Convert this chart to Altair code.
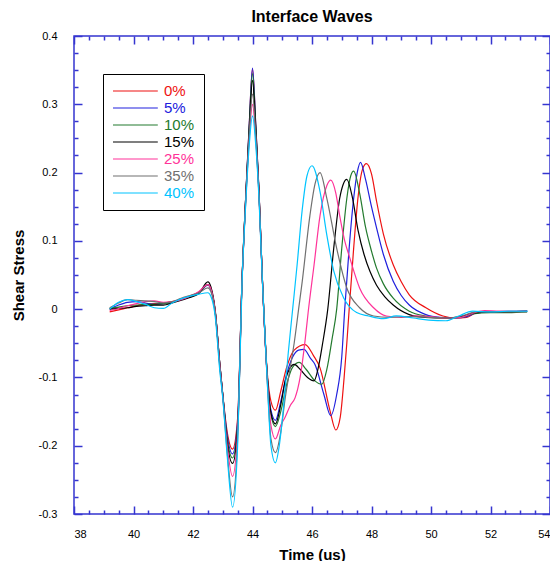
import altair as alt
import pandas as pd

series = ["0%", "5%", "10%", "15%", "25%", "35%", "40%"]
colors = ["#ee1111", "#2020dd", "#237a2e", "#000000", "#ff3399", "#707070", "#00c4ff"]
widths = [1.2, 1.2, 1.2, 1.3, 1.2, 1.2, 2.0]

# shared time samples of the early part of the record
early_t = [39.2, 39.5, 39.8, 40.1, 40.4, 40.7, 41.0, 41.3, 41.6, 41.9, 42.2, 42.5]
main_t = [42.6, 42.75, 42.9, 43.0, 43.15, 43.33, 43.5, 43.65, 43.78, 43.89, 44.0,
          44.11, 44.22, 44.33, 44.5, 44.62, 44.77]

early_v = {
    "0%":  [-0.004, -0.001, 0.002, 0.005, 0.007, 0.008, 0.009, 0.011, 0.014, 0.019, 0.025, 0.036],
    "5%":  [0.0, 0.006, 0.010, 0.011, 0.009, 0.007, 0.008, 0.010, 0.014, 0.018, 0.024, 0.035],
    "10%": [0.001, 0.003, 0.005, 0.006, 0.007, 0.007, 0.008, 0.010, 0.014, 0.018, 0.024, 0.036],
    "15%": [0.0, 0.001, 0.002, 0.004, 0.005, 0.006, 0.006, 0.009, 0.013, 0.017, 0.023, 0.040],
    "25%": [-0.002, 0.001, 0.005, 0.008, 0.011, 0.012, 0.010, 0.011, 0.014, 0.019, 0.026, 0.036],
    "35%": [0.002, 0.009, 0.014, 0.013, 0.012, 0.011, 0.009, 0.011, 0.016, 0.020, 0.024, 0.031],
    "40%": [0.0, 0.010, 0.014, 0.011, 0.007, 0.002, 0.001, 0.009, 0.015, 0.019, 0.022, 0.024],
}

main_v = {
    "0%":  [0.030, -0.005, -0.080, -0.125, -0.180, -0.205, -0.160, 0.045, 0.172, 0.269, 0.352,
            0.269, 0.172, 0.046, -0.095, -0.135, -0.148],
    "5%":  [0.029, -0.005, -0.080, -0.125, -0.185, -0.212, -0.165, 0.045, 0.172, 0.270, 0.353,
            0.270, 0.172, 0.046, -0.100, -0.148, -0.163],
    "10%": [0.030, -0.005, -0.080, -0.125, -0.190, -0.218, -0.170, 0.045, 0.170, 0.266, 0.345,
            0.266, 0.170, 0.046, -0.100, -0.155, -0.172],
    "15%": [0.033, -0.003, -0.080, -0.125, -0.195, -0.226, -0.175, 0.045, 0.170, 0.262, 0.335,
            0.262, 0.170, 0.046, -0.100, -0.152, -0.168],
    "25%": [0.030, -0.005, -0.082, -0.127, -0.200, -0.245, -0.180, 0.043, 0.165, 0.250, 0.300,
            0.250, 0.165, 0.045, -0.105, -0.170, -0.190],
    "35%": [0.026, -0.007, -0.085, -0.128, -0.210, -0.275, -0.190, 0.042, 0.165, 0.255, 0.315,
            0.255, 0.165, 0.045, -0.108, -0.190, -0.210],
    "40%": [0.019, -0.012, -0.090, -0.130, -0.215, -0.290, -0.200, 0.040, 0.160, 0.240, 0.283,
            0.240, 0.160, 0.043, -0.110, -0.200, -0.225],
}

late_t = {
    "0%":  [44.95, 45.15, 45.4, 45.77, 46.05, 46.27, 46.6, 46.8, 46.95, 47.08, 47.17, 47.25, 47.4,
            47.55, 47.7, 47.83, 48.0, 48.17, 48.4, 48.73, 49.0, 49.27, 49.83, 50.4, 50.83, 51.2,
            51.5, 52.0, 52.6, 53.23],
    "5%":  [44.95, 45.15, 45.35, 45.55, 45.73, 45.95, 46.1, 46.4, 46.63, 46.83, 47.0, 47.1, 47.25,
            47.4, 47.52, 47.63, 47.8, 48.0, 48.17, 48.4, 48.73, 49.0, 49.27, 49.83, 50.3, 50.8,
            51.2, 51.5, 52.0, 52.6, 53.23],
    "10%": [44.95, 45.15, 45.35, 45.57, 45.8, 46.1, 46.33, 46.5, 46.67, 46.83, 47.0, 47.17, 47.3,
            47.4, 47.6, 47.8, 48.0, 48.17, 48.4, 48.73, 49.27, 49.8, 50.5, 51.0, 51.4, 52.0,
            52.6, 53.23],
    "15%": [44.95, 45.1, 45.25, 45.4, 45.6, 45.85, 46.07, 46.2, 46.35, 46.53, 46.73, 46.93, 47.05,
            47.17, 47.35, 47.55, 47.75, 47.95, 48.17, 48.45, 48.73, 49.27, 49.8, 50.5, 51.0,
            51.4, 52.0, 52.6, 53.23],
    "25%": [44.95, 45.1, 45.27, 45.43, 45.6, 45.77, 45.87, 46.07, 46.27, 46.5, 46.63, 46.8, 46.93,
            47.1, 47.27, 47.6, 48.07, 48.5, 49.0, 49.5, 50.0, 50.5, 51.0, 51.4, 51.8, 52.3, 53.23],
    "35%": [44.95, 45.1, 45.27, 45.4, 45.55, 45.67, 45.93, 46.1, 46.27, 46.5, 46.83, 47.17, 47.6,
            48.07, 48.6, 49.2, 50.0, 50.6, 51.1, 51.5, 52.5, 53.23],
    "40%": [44.9, 45.05, 45.2, 45.35, 45.5, 45.67, 45.83, 46.0, 46.27, 46.5, 46.73, 47.07, 47.5,
            47.9, 48.4, 48.83, 49.4, 49.93, 50.5, 50.93, 51.4, 52.0, 52.6, 53.25],
}

late_v = {
    "0%":  [-0.120, -0.085, -0.060, -0.052, -0.068, -0.086, -0.148, -0.177, -0.158, -0.100, -0.050,
            0.0, 0.089, 0.165, 0.205, 0.213, 0.198, 0.158, 0.110, 0.065, 0.040, 0.021, 0.002,
            -0.010, -0.013, -0.012, -0.006, -0.004, -0.004, -0.003],
    "5%":  [-0.135, -0.095, -0.070, -0.060, -0.059, -0.072, -0.081, -0.125, -0.156, -0.125, -0.070,
            0.0, 0.090, 0.162, 0.200, 0.215, 0.190, 0.150, 0.119, 0.080, 0.041, 0.020, 0.006,
            -0.008, -0.012, -0.013, -0.011, -0.006, -0.004, -0.004, -0.003],
    "10%": [-0.150, -0.110, -0.085, -0.078, -0.088, -0.105, -0.110, -0.088, -0.045, 0.0, 0.089,
            0.162, 0.195, 0.202, 0.170, 0.120, 0.085, 0.060, 0.037, 0.016, -0.003, -0.010, -0.013,
            -0.012, -0.007, -0.005, -0.005, -0.004],
    "15%": [-0.140, -0.105, -0.087, -0.081, -0.088, -0.100, -0.105, -0.088, -0.052, 0.0, 0.089,
            0.162, 0.183, 0.190, 0.165, 0.115, 0.080, 0.055, 0.035, 0.018, 0.006, -0.008, -0.012,
            -0.013, -0.011, -0.006, -0.004, -0.004, -0.003],
    "25%": [-0.170, -0.158, -0.141, -0.130, -0.100, -0.045, -0.005, 0.065, 0.137, 0.181, 0.189,
            0.170, 0.137, 0.100, 0.075, 0.031, 0.002, -0.010, -0.012, -0.010, -0.011, -0.013,
            -0.012, -0.006, -0.002, -0.003, -0.003],
    "35%": [-0.180, -0.130, -0.085, -0.050, 0.0, 0.040, 0.137, 0.183, 0.200, 0.162, 0.089, 0.031,
            0.002, -0.010, -0.012, -0.011, -0.012, -0.013, -0.009, -0.004, -0.004, -0.004],
    "40%": [-0.200, -0.140, -0.065, 0.0, 0.065, 0.145, 0.195, 0.210, 0.172, 0.108, 0.056, 0.016,
            -0.005, -0.010, -0.014, -0.010, -0.013, -0.016, -0.017, -0.010, -0.003, -0.004,
            -0.003, -0.003],
}

x_major = [38, 40, 42, 44, 46, 48, 50, 52, 54]
x_minor = [38.5, 39, 39.5, 40.5, 41, 41.5, 42.5, 43, 43.5, 44.5, 45, 45.5, 46.5, 47, 47.5,
           48.5, 49, 49.5, 50.5, 51, 51.5, 52.5, 53, 53.5]
y_major = [-0.3, -0.2, -0.1, 0.0, 0.1, 0.2, 0.3, 0.4]
y_minor = [-0.275, -0.25, -0.225, -0.175, -0.15, -0.125, -0.075, -0.05, -0.025,
           0.025, 0.05, 0.075, 0.125, 0.15, 0.175, 0.225, 0.25, 0.275, 0.325, 0.35, 0.375]

rows = []
for s in series:
    ts = early_t + main_t + late_t[s]
    vs = early_v[s] + main_v[s] + late_v[s]
    for t, v in zip(ts, vs):
        rows.append({"series": s, "t": t, "v": v})
df = pd.DataFrame(rows)

FONT = "Liberation Sans"
BLUE = "#3535d0"
W, H = 476, 478

xs = alt.Scale(domain=[38, 54], nice=False, zero=False)
ys = alt.Scale(domain=[-0.3, 0.4], nice=False, zero=False)

label_color_expr = " : ".join(
    f"datum.value == '{s}' ? '{c}'" for s, c in zip(series, colors)
) + " : 'black'"

base = alt.Chart(df)

lines = base.mark_line(interpolate="monotone").encode(
    x=alt.X("t:Q", scale=xs, axis=alt.Axis(
        orient="bottom", values=x_major, format="d", title="Time (us)",
        ticks=False, tickSize=0, domain=False, grid=False, labelPadding=14,
        labelFontSize=11, labelFont=FONT, labelColor="black",
        titleFont=FONT, titleFontSize=15, titleFontWeight="bold", titleColor="black",
        titlePadding=8)),
    y=alt.Y("v:Q", scale=ys, axis=alt.Axis(
        orient="left", values=y_major, title="Shear Stress",
        labelExpr="datum.value == 0 ? '0' : (datum.value < 0 ? '-' : '') + format(abs(datum.value), '.1f')",
        ticks=False, tickSize=0, domain=False, grid=False, labelPadding=17,
        labelFontSize=11, labelFont=FONT, labelColor="black",
        titleFont=FONT, titleFontSize=15, titleFontWeight="bold", titleColor="black",
        titlePadding=12)),
    color=alt.Color("series:N", scale=alt.Scale(domain=series, range=colors),
                    legend=alt.Legend(
                        title=None, orient="none", legendX=29, legendY=38,
                        strokeColor="black", fillColor="white", padding=9,
                        symbolType="M-1,0H5.4", symbolSize=196, symbolStrokeWidth=1.2,
                        symbolFillColor="transparent",
                        labelFont=FONT, labelFontSize=15, labelOffset=36,
                        labelColor=alt.ExprRef(label_color_expr),
                        rowPadding=1)),
    strokeWidth=alt.StrokeWidth("series:N", scale=alt.Scale(domain=series, range=widths),
                                legend=None),
)


def tick_layer(xorient, yorient, xvals, yvals, size):
    return base.mark_point(opacity=0).encode(
        x=alt.X("t:Q", scale=xs, axis=alt.Axis(
            orient=xorient, values=xvals, labels=False, title=None, domain=False,
            grid=False, ticks=True, tickSize=size, offset=-size, tickColor=BLUE,
            tickWidth=1.5)),
        y=alt.Y("v:Q", scale=ys, axis=alt.Axis(
            orient=yorient, values=yvals, labels=False, title=None, domain=False,
            grid=False, ticks=True, tickSize=size, offset=-size, tickColor=BLUE,
            tickWidth=1.5)),
    )


chart = alt.layer(
    lines,
    tick_layer("bottom", "left", x_major, y_major, 8),
    tick_layer("bottom", "left", x_minor, y_minor, 4),
    tick_layer("top", "right", x_major, y_major, 8),
    tick_layer("top", "right", x_minor, y_minor, 4),
).resolve_axis(
    x="independent", y="independent"
).properties(
    width=W, height=H,
    title=alt.TitleParams("Interface Waves", font=FONT, fontSize=16, fontWeight="bold",
                          color="black", anchor="middle", offset=5),
    autosize=alt.AutoSizeParams(type="none"),
    padding={"left": 66, "top": 28, "right": 0, "bottom": 47},
).configure_view(
    stroke=BLUE, strokeWidth=1.5
)

chart.save("out.html", embed_options={"renderer": "svg", "actions": False})
